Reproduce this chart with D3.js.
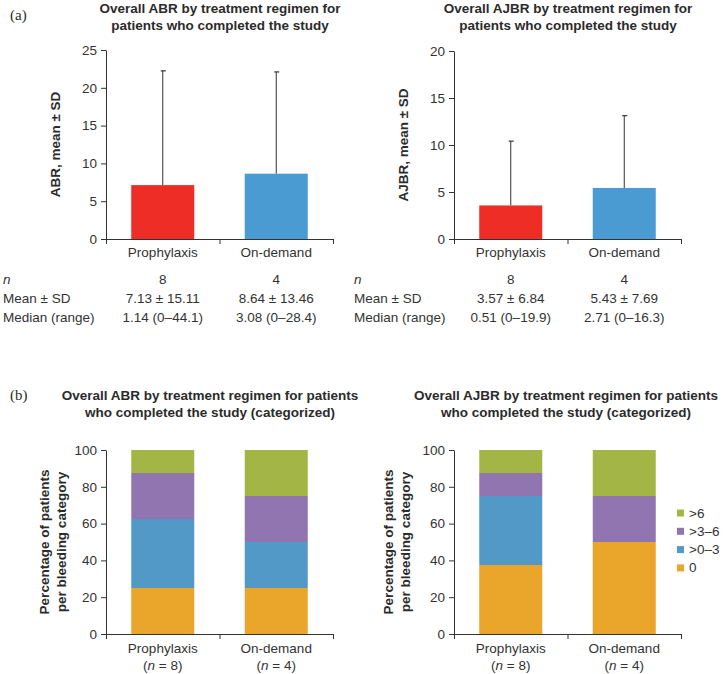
<!DOCTYPE html>
<html>
<head>
<meta charset="utf-8">
<script src="https://cdn.jsdelivr.net/npm/d3@7"></script>
<style>
  body { margin: 0; background: #fff; }
  svg text { font-family: "Liberation Sans", Arial, sans-serif; fill: #2b2b2b; }
  .title { font-weight: bold; font-size: 13.5px; }
  .ylab { font-weight: bold; font-size: 13.5px; }
  .tick text { font-size: 13.5px; fill: #333; }
  .domain, .tick line { stroke: #333; }
</style>
</head>
<body>
<svg id="fig" width="724" height="674"></svg>
<script>
// ---- dati ----
const groups = ["Prophylaxis", "On-demand"];
const groupN = [8, 4];

const abrMean = [7.13, 8.64];
const abrSD = [15.11, 13.46];
const abrMedian = ["1.14 (0–44.1)", "3.08 (0–28.4)"];

const ajbrMean = [3.57, 5.43];
const ajbrSD = [6.84, 7.69];
const ajbrMedian = ["0.51 (0–19.9)", "2.71 (0–16.3)"];

const categories = ["0", ">0–3", ">3–6", ">6"];
const catColors = ["#e9a62a", "#5299c8", "#9175b1", "#a2b545"];
// percentuali per categoria, una riga per gruppo
const abrCat = [[25, 37.5, 25, 12.5], [25, 25, 25, 25]];
const ajbrCat = [[37.5, 37.5, 12.5, 12.5], [50, 0, 25, 25]];

const barColors = ["#ee2d26", "#4a9bd1"];

const svg = d3.select("#fig");

// etichette pannello
svg.append("text").attr("x", 10).attr("y", 20)
  .style("font-family", "'Liberation Serif', 'Times New Roman', serif").style("font-size", "15px").text("(a)");
svg.append("text").attr("x", 10).attr("y", 400)
  .style("font-family", "'Liberation Serif', 'Times New Roman', serif").style("font-size", "15px").text("(b)");

function titleBlock(cx, y, lines) {
  const t = svg.append("text").attr("class", "title").attr("text-anchor", "middle");
  lines.forEach((l, i) => t.append("tspan").attr("x", cx).attr("y", y + i * 17).text(l));
}

function xAxisLine(x0, x1, yPos) {
  const xs = d3.scaleLinear().domain([0, 1]).range([x0, x1]);
  return svg.append("g").attr("transform", `translate(0,${yPos})`)
    .call(d3.axisBottom(xs).tickValues([0, 0.5, 1]).tickFormat("").tickSizeOuter(0).tickSize(5));
}

// ---- grafico a barre con deviazione standard ----
function meanChart(opt) {
  const { x0, x1, yTop, yBot, max, step, means, sds, label, labelX } = opt;
  const y = d3.scaleLinear().domain([0, max]).range([yBot, yTop]);
  const x = d3.scalePoint().domain(groups).range([x0, x1]).padding(0.5);
  const bw = 63;

  const g = svg.append("g");
  // barre d'errore (solo verso l'alto)
  groups.forEach((grp, i) => {
    const cx = x(grp);
    g.append("line").attr("x1", cx).attr("x2", cx)
      .attr("y1", y(means[i])).attr("y2", y(means[i] + sds[i]))
      .attr("stroke", "#333").attr("stroke-width", 1);
    g.append("line").attr("x1", cx - 2).attr("x2", cx + 3)
      .attr("y1", y(means[i] + sds[i])).attr("y2", y(means[i] + sds[i]))
      .attr("stroke", "#333").attr("stroke-width", 1.2);
  });
  g.selectAll("rect").data(groups).enter().append("rect")
    .attr("x", d => x(d) - bw / 2).attr("width", bw)
    .attr("y", (d, i) => y(means[i])).attr("height", (d, i) => yBot - y(means[i]))
    .attr("fill", (d, i) => barColors[i]);

  svg.append("g").attr("transform", `translate(${x0},0)`)
    .call(d3.axisLeft(y).tickValues(d3.range(0, max + 0.01, step)).tickSize(5).tickPadding(4).tickSizeOuter(0));
  xAxisLine(x0, x1, yBot);

  groups.forEach(grp => {
    svg.append("text").attr("class", "tick").attr("x", x(grp)).attr("y", yBot + 18)
      .attr("text-anchor", "middle").style("font-size", "13.5px").style("fill", "#333").text(grp);
  });

  svg.append("text").attr("class", "ylab")
    .attr("transform", `translate(${labelX},${(yTop + yBot) / 2}) rotate(-90)`)
    .attr("text-anchor", "middle").text(label);
  return x;
}

function statsTable(x, xLab, means, sds, medians) {
  const rows = [
    { lab: "n", vals: groupN.map(String), it: true },
    { lab: "Mean ± SD", vals: means.map((m, i) => m.toFixed(2) + " ± " + sds[i].toFixed(2)) },
    { lab: "Median (range)", vals: medians }
  ];
  rows.forEach((r, j) => {
    const yy = 284 + j * 19;
    svg.append("text").attr("x", xLab).attr("y", yy).style("font-size", "13.5px")
      .style("font-style", r.it ? "italic" : "normal").style("fill", "#333").text(r.lab);
    groups.forEach((grp, i) => {
      svg.append("text").attr("x", x(grp)).attr("y", yy).attr("text-anchor", "middle")
        .style("font-size", "13.5px").style("fill", "#333").text(r.vals[i]);
    });
  });
}

titleBlock(220, 13, ["Overall ABR by treatment regimen for", "patients who completed the study"]);
titleBlock(568, 13, ["Overall AJBR by treatment regimen for", "patients who completed the study"]);

const xa = meanChart({ x0: 106, x1: 333, yTop: 50, yBot: 239, max: 25, step: 5,
  means: abrMean, sds: abrSD, label: "ABR, mean ± SD", labelX: 60 });
const xb = meanChart({ x0: 454, x1: 681, yTop: 51, yBot: 239, max: 20, step: 5,
  means: ajbrMean, sds: ajbrSD, label: "AJBR, mean ± SD", labelX: 408 });

statsTable(xa, 3, abrMean, abrSD, abrMedian);
statsTable(xb, 354, ajbrMean, ajbrSD, ajbrMedian);

// ---- grafici impilati ----
function stackChart(opt) {
  const { x0, x1, yTop, yBot, data, labelX } = opt;
  const y = d3.scaleLinear().domain([0, 100]).range([yBot, yTop]);
  const x = d3.scalePoint().domain(groups).range([x0, x1]).padding(0.5);
  const bw = 63;
  const table = groups.map((grp, i) => {
    const o = { group: grp };
    categories.forEach((c, k) => o[c] = data[i][k]);
    return o;
  });
  const series = d3.stack().keys(categories)(table);
  svg.append("g").selectAll("g").data(series).enter().append("g")
    .attr("fill", (d, k) => catColors[k])
    .selectAll("rect").data(d => d).enter().append("rect")
    .attr("x", d => x(d.data.group) - bw / 2).attr("width", bw)
    .attr("y", d => y(d[1])).attr("height", d => y(d[0]) - y(d[1]));

  svg.append("g").attr("transform", `translate(${x0},0)`)
    .call(d3.axisLeft(y).tickValues(d3.range(0, 101, 20)).tickSize(5).tickPadding(4).tickSizeOuter(0));
  xAxisLine(x0, x1, yBot);

  groups.forEach((grp, i) => {
    svg.append("text").attr("x", x(grp)).attr("y", yBot + 19).attr("text-anchor", "middle")
      .style("font-size", "13.5px").style("fill", "#333").text(grp);
    const t = svg.append("text").attr("x", x(grp)).attr("y", yBot + 36).attr("text-anchor", "middle")
      .style("font-size", "13.5px").style("fill", "#333");
    t.append("tspan").text("(");
    t.append("tspan").style("font-style", "italic").text("n");
    t.append("tspan").text(" = " + groupN[i] + ")");
  });

  const lab = svg.append("text").attr("class", "ylab")
    .attr("transform", `translate(${labelX},${(yTop + yBot) / 2}) rotate(-90)`)
    .attr("text-anchor", "middle");
  lab.append("tspan").attr("x", 0).attr("y", 0).text("Percentage of patients");
  lab.append("tspan").attr("x", 0).attr("y", 17).text("per bleeding category");
}

titleBlock(210, 400, ["Overall ABR by treatment regimen for patients", "who completed the study (categorized)"]);
titleBlock(566, 400, ["Overall AJBR by treatment regimen for patients", "who completed the study (categorized)"]);

stackChart({ x0: 106, x1: 333, yTop: 450, yBot: 634, data: abrCat, labelX: 49 });
stackChart({ x0: 454, x1: 681, yTop: 450, yBot: 634, data: ajbrCat, labelX: 393 });

// legenda
const leg = svg.append("g");
categories.slice().reverse().forEach((c, j) => {
  const k = categories.length - 1 - j;
  const yy = 513 + j * 18.3;
  leg.append("rect").attr("x", 677).attr("y", yy - 3.5).attr("width", 7).attr("height", 7).attr("fill", catColors[k]);
  leg.append("text").attr("x", 689).attr("y", yy + 4.5).style("font-size", "13.5px").style("fill", "#333").text(c);
});
</script>
</body>
</html>
